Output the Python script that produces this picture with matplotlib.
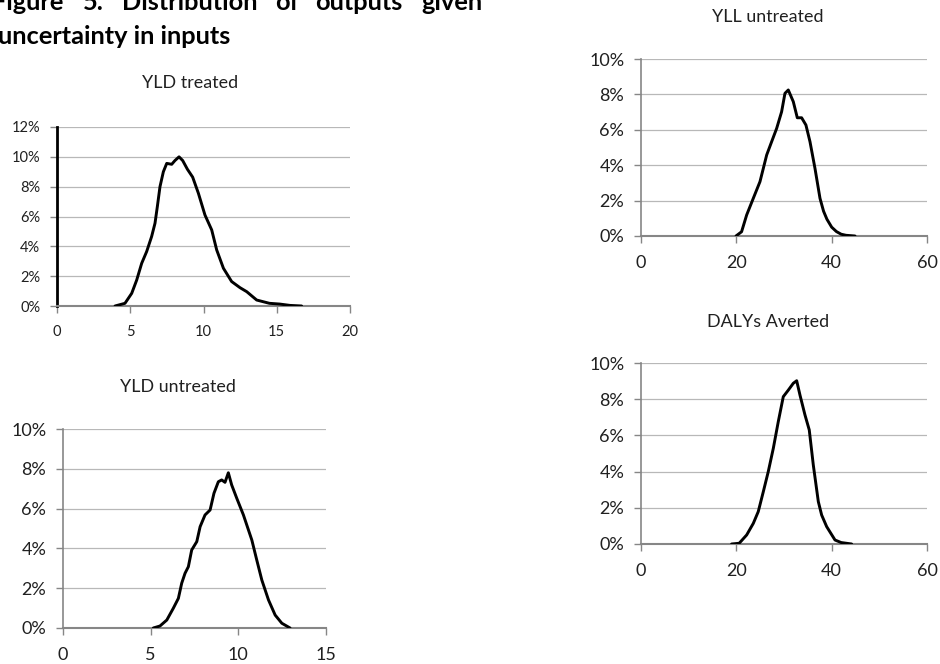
import matplotlib.pyplot as plt

# values (x in output units, y in percent)
yld_treated_x = [3.96, 4.64, 5.1, 5.44, 5.78, 6.12, 6.46, 6.69, 6.85, 7.03, 7.26, 7.49,
                 7.83, 8.05, 8.33, 8.58, 8.9, 9.26, 9.65, 10.1, 10.56, 10.9, 11.36,
                 11.92, 12.49, 12.95, 13.63, 14.5, 15.2, 15.9, 16.7]
yld_treated_y = [0.0, 0.18, 0.85, 1.74, 2.86, 3.65, 4.66, 5.55, 6.67, 8.0, 9.0, 9.56,
                 9.5, 9.75, 10.0, 9.75, 9.17, 8.64, 7.56, 6.1, 5.1, 3.76, 2.53,
                 1.64, 1.23, 0.96, 0.4, 0.18, 0.13, 0.04, 0.0]

yld_untreated_x = [5.15, 5.53, 5.92, 6.29, 6.58, 6.77, 6.96, 7.15, 7.34, 7.63, 7.82, 8.1,
                   8.39, 8.61, 8.86, 9.05, 9.24, 9.43, 9.62, 9.91, 10.29, 10.77, 11.05,
                   11.34, 11.72, 12.1, 12.48, 12.95]
yld_untreated_y = [0.0, 0.1, 0.4, 0.99, 1.49, 2.25, 2.75, 3.08, 3.92, 4.34, 5.09, 5.68,
                   5.93, 6.77, 7.35, 7.44, 7.32, 7.8, 7.19, 6.52, 5.68, 4.42, 3.42,
                   2.41, 1.41, 0.65, 0.24, 0.0]

yll_untreated_x = [19.93, 21.1, 22.17, 23.56, 24.96, 26.37, 27.41, 28.46, 29.5, 30.2,
                   30.9, 31.95, 32.79, 33.7, 34.6, 35.45, 36.5, 37.55, 38.3, 39.0,
                   40.0, 41.0, 42.0, 43.0, 44.9]
yll_untreated_y = [0.0, 0.24, 1.19, 2.13, 3.07, 4.58, 5.33, 6.08, 7.02, 8.06,
                   8.25, 7.59, 6.68, 6.68, 6.27, 5.33, 3.82, 2.13, 1.4, 0.95,
                   0.5, 0.25, 0.1, 0.04, 0.0]

dalys_x = [19.0, 20.6, 22.17, 23.56, 24.6, 25.66, 26.7, 27.76, 28.8, 29.85, 30.9, 31.95,
           32.66, 33.35, 34.4, 35.3, 36.15, 37.2, 37.9, 38.95, 40.7, 42.0, 44.2]
dalys_y = [0.0, 0.04, 0.5, 1.14, 1.79, 2.89, 4.0, 5.29, 6.76, 8.14, 8.5, 8.88,
           9.02, 8.23, 7.13, 6.3, 4.36, 2.34, 1.6, 0.96, 0.22, 0.08, 0.0]

plt.rcParams['font.family'] = ['Lato', 'DejaVu Sans']

W, H = 940, 664
fig = plt.figure(figsize=(W / 100, H / 100), dpi=100)


def box(left, top, right, bottom):
    return [left / W, 1 - bottom / H, (right - left) / W, (bottom - top) / H]


def panel(rect, x, y, xmax, xstep, ymax, ystep, fs, black_left=False):
    ax = fig.add_axes(rect)
    ax.plot(x, y, color='black', lw=2.1, solid_capstyle='round',
            solid_joinstyle='round', zorder=3)
    ax.set_xlim(0, xmax)
    ax.set_ylim(0, ymax)
    xt = list(range(0, xmax + 1, xstep))
    yt = list(range(0, ymax + 1, ystep))
    ax.set_xticks(xt)
    ax.set_yticks(yt)
    ax.set_yticklabels(['%d%%' % v for v in yt])
    ax.grid(axis='y', color='#b8b8b8', lw=0.9)
    ax.set_axisbelow(True)
    for s in ['top', 'right']:
        ax.spines[s].set_visible(False)
    ax.spines['bottom'].set_color('#868686')
    ax.spines['bottom'].set_linewidth(1.5)
    if black_left:
        ax.spines['left'].set_color('black')
        ax.spines['left'].set_linewidth(2.0)
    else:
        ax.spines['left'].set_color('#868686')
        ax.spines['left'].set_linewidth(1.2)
    ax.tick_params(length=5, width=1, color='#868686', labelsize=fs,
                   labelcolor='#202020', pad=7)
    ax.tick_params(axis='x', pad=9)
    return ax


panel(box(57, 127, 350, 306), yld_treated_x, yld_treated_y, 20, 5, 12, 2, 10.5,
      black_left=True)
panel(box(63, 429, 326, 628), yld_untreated_x, yld_untreated_y, 15, 5, 10, 2, 13)
panel(box(641, 59, 927, 236), yll_untreated_x, yll_untreated_y, 60, 20, 10, 2, 13)
panel(box(641, 363, 927, 544), dalys_x, dalys_y, 60, 20, 10, 2, 13)


def ftext(px, py, s, **kw):
    fig.text(px / W, 1 - py / H, s, **kw)


ftext(190, 83, 'YLD treated', ha='center', va='center', fontsize=12.9, color='#202020')
ftext(178, 387, 'YLD untreated', ha='center', va='center', fontsize=12.9, color='#202020')
ftext(768, 17, 'YLL untreated', ha='center', va='center', fontsize=12.9, color='#202020')
ftext(768, 322, 'DALYs Averted', ha='center', va='center', fontsize=12.9, color='#202020')

# justified heading, partly cut off at the edges as in the source page
words = [('Figure', -8), ('5.', 83), ('Distribution', 122), ('of', 275),
         ('outputs', 315), ('given', 421)]
for w, px in words:
    ftext(px, 10, w, ha='left', va='baseline', fontsize=18.3, fontweight='bold')
ftext(-2, 44, 'uncertainty in inputs', ha='left', va='baseline', fontsize=18.3,
      fontweight='bold')

fig.savefig('out.png', dpi=100)
